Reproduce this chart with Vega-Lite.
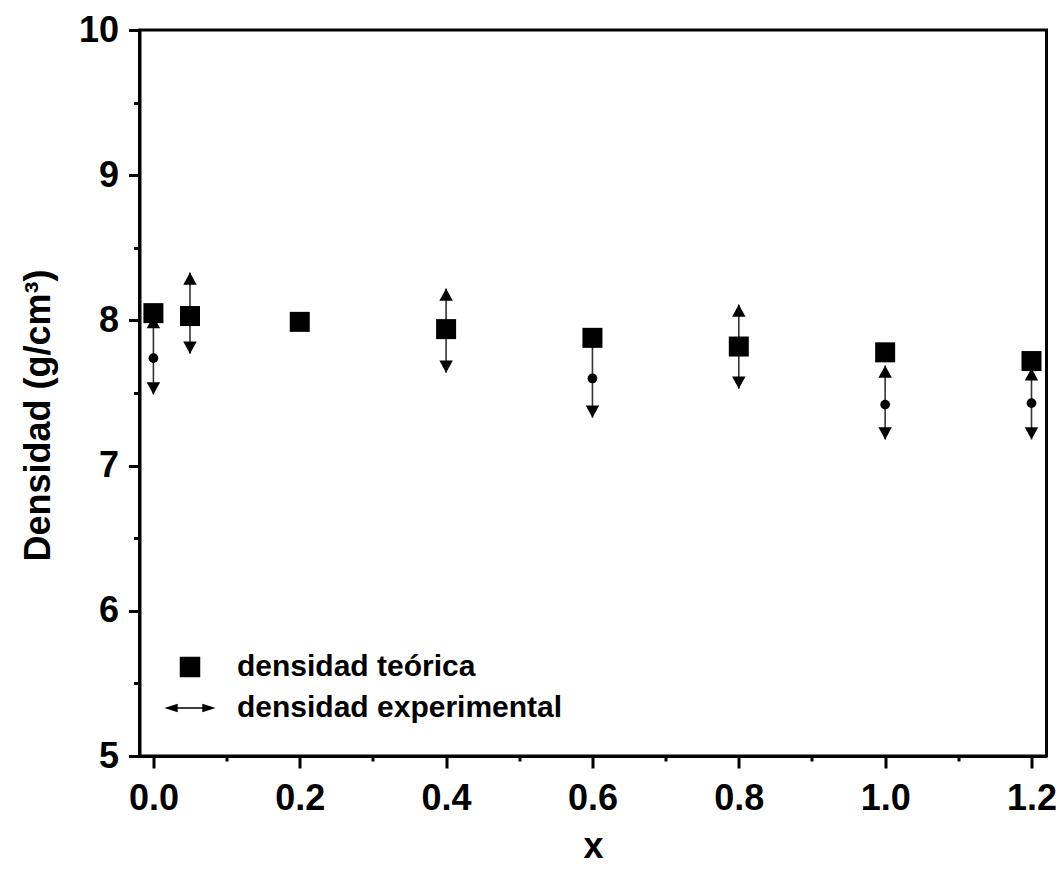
{
  "$schema": "https://vega.github.io/schema/vega-lite/v6.json",
  "autosize": "none",
  "width": 907,
  "height": 726,
  "padding": {"left": 139.5, "top": 30, "right": 15.5, "bottom": 124},
  "background": "white",
  "config": {
    "view": {"stroke": "black", "strokeWidth": 3},
    "font": "Liberation Sans",
    "axis": {
      "domainColor": "black",
      "domainWidth": 3,
      "tickColor": "black",
      "tickWidth": 3,
      "grid": false,
      "labelFont": "Liberation Sans",
      "labelFontWeight": "bold",
      "labelFontSize": 36,
      "labelColor": "black",
      "titleFont": "Liberation Sans",
      "titleFontWeight": "bold",
      "titleFontSize": 36,
      "titleColor": "black"
    }
  },
  "data": {
    "values": [
      {"x": 0.0, "teo": 8.05, "exp": 7.74, "lo": 7.49, "hi": 8.03},
      {"x": 0.05, "teo": 8.03, "exp": 8.05, "lo": 7.77, "hi": 8.33},
      {"x": 0.2, "teo": 7.99, "exp": null, "lo": null, "hi": null},
      {"x": 0.4, "teo": 7.94, "exp": 7.93, "lo": 7.64, "hi": 8.22},
      {"x": 0.6, "teo": 7.88, "exp": 7.60, "lo": 7.33, "hi": 7.90},
      {"x": 0.8, "teo": 7.82, "exp": 7.82, "lo": 7.53, "hi": 8.11},
      {"x": 1.0, "teo": 7.78, "exp": 7.42, "lo": 7.18, "hi": 7.69},
      {"x": 1.2, "teo": 7.72, "exp": 7.43, "lo": 7.18, "hi": 7.67}
    ]
  },
  "encoding": {
    "x": {
      "field": "x",
      "type": "quantitative",
      "scale": {"domain": [-0.019, 1.2205], "nice": false, "zero": false},
      "axis": {
        "title": "x",
        "values": [0, 0.1, 0.2, 0.3, 0.4, 0.5, 0.6, 0.7, 0.8, 0.9, 1.0, 1.1, 1.2],
        "labelExpr": "round(datum.value * 10) % 2 === 0 ? format(datum.value, '.1f') : ''",
        "tickSize": {"condition": {"test": "round(datum.value * 10) % 2 === 0", "value": 12}, "value": 5},
        "labelPadding": 13,
        "labelFlush": false,
        "labelOverlap": false,
        "titleX": 453.5,
        "titleY": 101,
        "titleBaseline": "alphabetic"
      }
    }
  },
  "layer": [
    {
      "transform": [{"filter": "datum.lo != null"}],
      "mark": {"type": "rule", "color": "#333333", "strokeWidth": 1.6},
      "encoding": {
        "y": {"field": "lo", "type": "quantitative"},
        "y2": {"field": "hi"}
      }
    },
    {
      "transform": [{"filter": "datum.exp != null"}],
      "mark": {"type": "point", "filled": true, "color": "black", "opacity": 1, "shape": "circle", "size": 95},
      "encoding": {
        "y": {"field": "exp", "type": "quantitative"}
      }
    },
    {
      "transform": [{"filter": "datum.hi != null"}],
      "mark": {"type": "point", "filled": true, "color": "black", "opacity": 1, "size": 150, "shape": "M0,0L-1.1,2L1.1,2Z"},
      "encoding": {
        "y": {"field": "hi", "type": "quantitative"}
      }
    },
    {
      "transform": [{"filter": "datum.lo != null"}],
      "mark": {"type": "point", "filled": true, "color": "black", "opacity": 1, "size": 150, "shape": "M0,0L-1.1,-2L1.1,-2Z"},
      "encoding": {
        "y": {"field": "lo", "type": "quantitative"}
      }
    },
    {
      "mark": {"type": "point", "filled": true, "color": "black", "opacity": 1, "size": 400},
      "encoding": {
        "y": {
          "field": "teo",
          "type": "quantitative",
          "scale": {"domain": [5, 10], "nice": false, "zero": false},
          "axis": {
            "title": "Densidad (g/cm³)",
            "values": [5, 5.5, 6, 6.5, 7, 7.5, 8, 8.5, 9, 9.5, 10],
            "labelExpr": "datum.value % 1 === 0 ? format(datum.value, 'd') : ''",
            "tickSize": {"condition": {"test": "datum.value % 1 === 0", "value": 11}, "value": 6},
            "labelPadding": 10,
            "labelFlush": false,
            "labelOverlap": false,
            "titleAngle": -90,
            "titleX": -90,
            "titleY": 385,
            "titleAlign": "center",
            "titleBaseline": "alphabetic"
          }
        },
        "shape": {
          "datum": "densidad teórica",
          "scale": {
            "domain": ["densidad teórica", "densidad experimental"],
            "range": ["square", "M-2.5,0L-1.2,-0.42L-1.2,-0.08L1.2,-0.08L1.2,-0.42L2.5,0L1.2,0.42L1.2,0.08L-1.2,0.08L-1.2,0.42Z"]
          },
          "legend": {
            "title": null,
            "orient": "none",
            "legendX": 35.5,
            "legendY": 622,
            "padding": 0,
            "symbolSize": 420,
            "symbolFillColor": "black",
            "symbolStrokeColor": "black",
            "symbolStrokeWidth": 0,
            "symbolOpacity": 1,
            "labelFont": "Liberation Sans",
            "labelFontWeight": "bold",
            "labelFontSize": 30,
            "labelColor": "black",
            "labelOffset": 32,
            "labelLimit": 600,
            "rowPadding": 11
          }
        }
      }
    }
  ]
}
